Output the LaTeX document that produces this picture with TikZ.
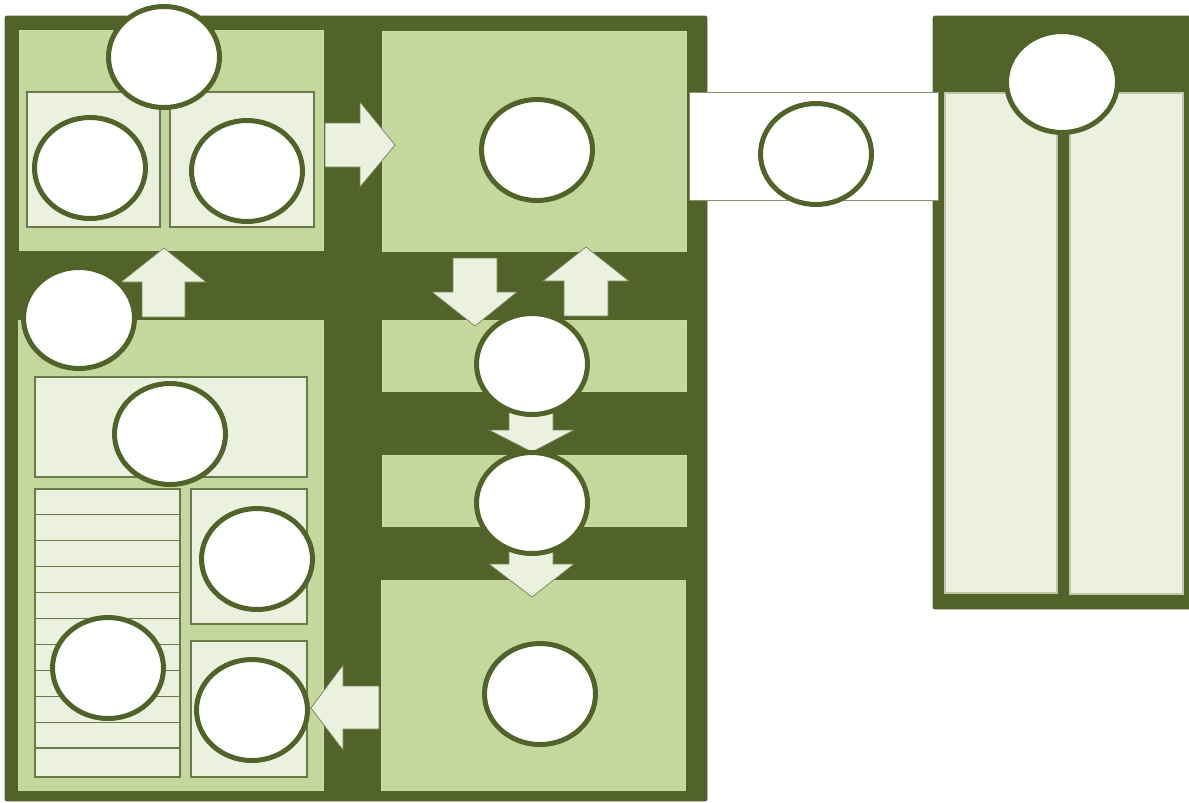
\documentclass[tikz,border=0pt]{standalone}
\usepackage{tikz}
\usetikzlibrary{shapes.geometric}
\definecolor{olivedark}{RGB}{82,99,41}
\definecolor{olivemid}{RGB}{196,215,157}
\definecolor{olivelight}{RGB}{235,240,223}

\begin{document}
\begin{tikzpicture}[x=0.02cm, y=-0.02cm,
    frame/.style={fill=olivedark, draw=olivedark, rounded corners=0.04cm},
    panel/.style={fill=olivemid, draw=olivemid!90!white, line width=0.3pt},
    box/.style={fill=olivelight, draw=olivedark!85, line width=0.6pt},
    barrow/.style={fill=olivelight, draw=olivedark!80, line width=0.4pt},
    bubble/.style={ellipse, draw=olivedark, fill=white, line width=0.1cm, minimum width=2.22cm, minimum height=2.02cm, inner sep=0pt}]
    \useasboundingbox (0,0) rectangle (1189,802);

    % frames
    \draw[frame] (5,16) rectangle (707,801);
    \draw[frame] (933,16) rectangle (1195,609);

    % panels
    \draw[panel] (19,30) rectangle (323,250);
    \draw[panel] (18,320) rectangle (323,790);
    \draw[panel] (382,31) rectangle (686,251);
    \draw[panel] (382,320) rectangle (686,391);
    \draw[panel] (382,455) rectangle (686,526);
    \draw[panel] (381,580) rectangle (685,790);
    \draw[box, draw=olivelight!70!olivedark] (945,93) rectangle (1057,593);
    \draw[box, draw=olivelight!70!olivedark] (1070,93) rectangle (1183,594);

    \draw[box] (27,92) rectangle (160,227);
    \draw[box] (170,92) rectangle (314,227);
    \draw[box] (35,377) rectangle (307,477);
    \draw[box] (35,489) rectangle (180,777);
    \foreach \k in {1,...,10}
        \draw[box] (35,{489+25.9*\k}) -- (180,{489+25.9*\k});
    \draw[box] (191,489) rectangle (307,624);
    \draw[box] (191,641) rectangle (307,777);

    % block arrows
    \draw[barrow] (325,123) -- (360,123) -- (360,102) -- (395,145) -- (360,187) -- (360,167) -- (325,167) -- cycle;
    \draw[barrow] (142,317) -- (142,282) -- (121,282) -- (164,248) -- (206,282) -- (185,282) -- (185,317) -- cycle;
    \draw[barrow] (453,258) -- (497,258) -- (497,292) -- (517,292) -- (475,326) -- (432,292) -- (453,292) -- cycle;
    \draw[barrow] (564,316) -- (564,281) -- (543,281) -- (586,247) -- (629,281) -- (608,281) -- (608,316) -- cycle;
    \draw[barrow] (509,405) -- (553,405) -- (553,430) -- (574,430) -- (532,452) -- (489,430) -- (509,430) -- cycle;
    \draw[barrow] (509,545) -- (553,545) -- (553,564) -- (574,564) -- (532,597) -- (489,564) -- (509,564) -- cycle;
    \draw[barrow] (379,686) -- (343,686) -- (343,665) -- (311,708) -- (343,750) -- (343,729) -- (379,729) -- cycle;

    % link box
    \draw[fill=white, draw=olivedark!70, line width=0.5pt] (689,92) rectangle (938,200);

    % bubbles
    \node[bubble] (top) at (164,57) {};
    \node[bubble] (topA) at (90,168) {};
    \node[bubble] (topB) at (247,171) {};
    \node[bubble] (mid) at (79,318) {};
    \node[bubble] (lowHead) at (170,434) {};
    \node[bubble] (lowList) at (108,668) {};
    \node[bubble] (lowR1) at (257,559) {};
    \node[bubble] (lowR2) at (252,710) {};
    \node[bubble] (right) at (537,150) {};
    \node[bubble] (bar1) at (532,364) {};
    \node[bubble] (bar2) at (532,503) {};
    \node[bubble] (bottom) at (540,694) {};
    \node[bubble] (link) at (816,154) {};
    \node[bubble] (side) at (1062,82) {};
\end{tikzpicture}
\end{document}
